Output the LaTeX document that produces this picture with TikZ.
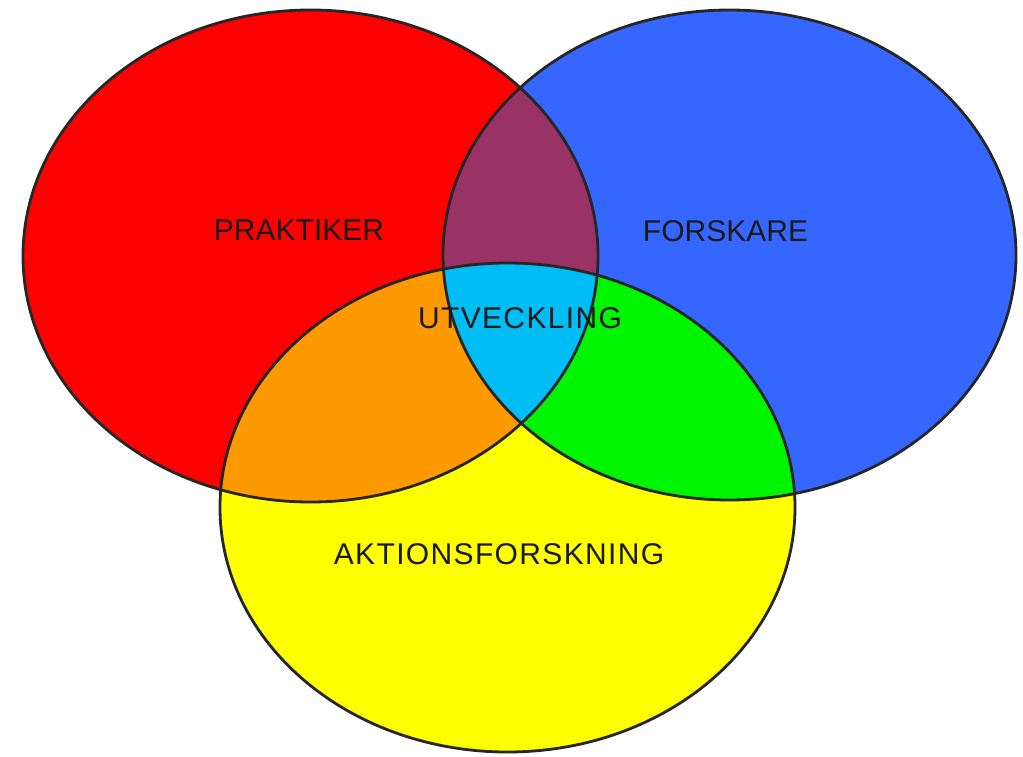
\documentclass[tikz,border=0pt]{standalone}
\usepackage{fontspec}
\setmainfont{Liberation Sans}
\usepackage{xcolor}
\definecolor{praktred}{RGB}{255,0,0}
\definecolor{forskblue}{RGB}{53,102,255}
\definecolor{aktyellow}{RGB}{255,255,0}
\definecolor{lilac}{RGB}{153,51,102}
\definecolor{amber}{RGB}{255,153,0}
\definecolor{lime}{RGB}{0,245,0}
\definecolor{sky}{RGB}{0,190,245}
\definecolor{rim}{RGB}{38,38,38}

\def\redset{(310.5,256) ellipse [x radius=287.5, y radius=246]}
\def\blueset{(729.5,255) ellipse [x radius=286.5, y radius=245]}
\def\yellowset{(507.5,507.5) ellipse [x radius=287.5, y radius=244.5]}

\begin{document}
\begin{tikzpicture}[x=0.75pt, y=-0.75pt, font=\fontsize{22.5}{27}\selectfont,
      border/.style={draw=rim, line width=2.1pt},
      label/.style={anchor=base, inner sep=0pt, text=black!90},
      wide/.style={font=\fontsize{22.5}{27}\selectfont\addfontfeature{LetterSpace=4.5}}]
      \useasboundingbox (0,0) rectangle (1023,756);
      \fill[white] (0,0) rectangle (1023,756);

      % the three sets
      \fill[praktred] \redset;
      \fill[forskblue] \blueset;
      \fill[aktyellow] \yellowset;

      % overlaps
      \begin{scope} \clip \redset; \fill[lilac] \blueset; \end{scope}
      \begin{scope} \clip \redset; \fill[amber] \yellowset; \end{scope}
      \begin{scope} \clip \blueset; \fill[lime] \yellowset; \end{scope}
      \begin{scope} \clip \redset; \clip \blueset; \fill[sky] \yellowset; \end{scope}

      \draw[border] \redset;
      \draw[border] \blueset;
      \draw[border] \yellowset;

      \node[label, name=praktiker] at (299,240) {PRAKTIKER};
      \node[label, name=forskare] at (725.5,241) {FORSKARE};
      \node[label, wide, name=utveckling] at (520,328) {UTVECKLING};
      \node[label, wide, name=aktion] at (499,564) {AKTIONSFORSKNING};
   \end{tikzpicture}
\end{document}
